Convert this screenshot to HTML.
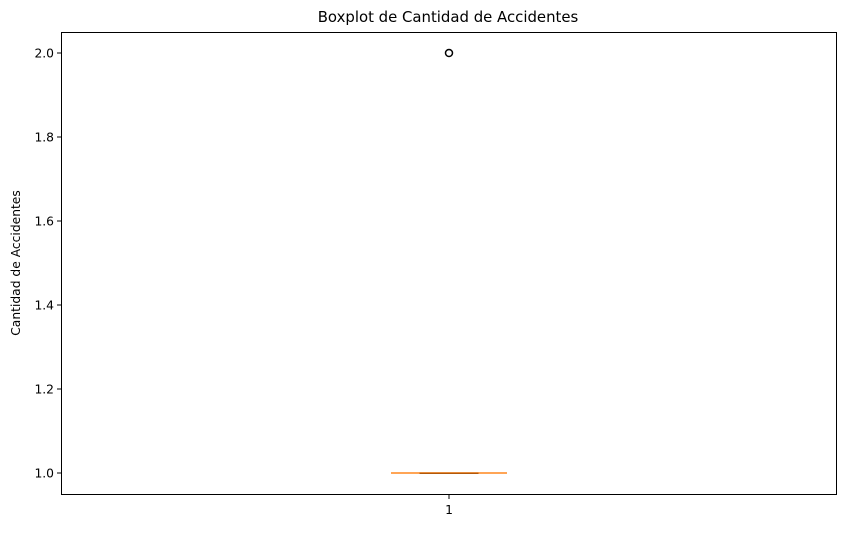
<!DOCTYPE html>
<html><head><meta charset="utf-8"><style>body{margin:0;background:#fff}svg{font-family:"DejaVu Sans","Liberation Sans",sans-serif}</style></head>
<body>
<svg id="c" width="846" height="528">
<rect width="846" height="528" fill="#fff"/>
<text x="448" y="22" text-anchor="middle" font-size="14.9">Boxplot de Cantidad de Accidentes</text>
<text transform="translate(20,263) rotate(-90)" text-anchor="middle" font-size="12.3">Cantidad de Accidentes</text>
<g id="ticks"></g>
<g id="marks"></g>
<rect x="61.5" y="32.5" width="775" height="462" fill="none" stroke="#000" stroke-width="1"/>
</svg>
<script>
const categories=["1"];
const q1=[1.0],q3=[1.0],median=[1.0],whiskLo=[1.0],whiskHi=[1.0];
const outliers=[[2.0]];
const yTicks=[1.0,1.2,1.4,1.6,1.8,2.0];
const yTickLabels=["1.0","1.2","1.4","1.6","1.8","2.0"];
const ns="http://www.w3.org/2000/svg";
function y(v){return 473-(v-1.0)*420;}
function x(i){return 449+i*100;}
function mk(t,a,p){const e=document.createElementNS(ns,t);for(const k in a)e.setAttribute(k,a[k]);p.appendChild(e);return e;}
const T=document.getElementById('ticks'),M=document.getElementById('marks');
yTicks.forEach((v,i)=>{
 const l=mk('line',{x1:57,x2:61,y1:y(v),y2:y(v),stroke:'#000'},T);
 
 
 const t=mk('text',{x:54,y:y(v)+4.5,'text-anchor':'end','font-size':12.3},T);t.textContent=yTickLabels[i];
 
 
});
categories.forEach((c,i)=>{
 const cx=x(i);
 const l=mk('line',{x1:cx,x2:cx,y1:495,y2:499,stroke:'#000'},T);
 
 
 const t=mk('text',{x:cx,y:514,'text-anchor':'middle','font-size':12.3},T);t.textContent=c;
 
 
 const b=mk('rect',{x:cx-29,y:y(q3[i]),width:58,height:Math.max(0.5,y(q1[i])-y(q3[i])),fill:'none',stroke:'#000'},M);
 
 
 const w1=mk('line',{x1:cx,x2:cx,y1:y(q3[i]),y2:y(whiskHi[i]),stroke:'#000'},M);
 
 
 const w2=mk('line',{x1:cx,x2:cx,y1:y(q1[i]),y2:y(whiskLo[i]),stroke:'#000'},M);
 
 
 const c1=mk('line',{x1:cx-29,x2:cx+29,y1:y(whiskHi[i]),y2:y(whiskHi[i]),stroke:'#000'},M);
 
 
 const c2=mk('line',{x1:cx-29,x2:cx+29,y1:y(whiskLo[i]),y2:y(whiskLo[i]),stroke:'#000'},M);
 
 
 const m=mk('line',{x1:cx-58,x2:cx+58,y1:y(median[i]),y2:y(median[i]),stroke:'#ff7f0e','stroke-width':1.8,opacity:0.8},M);
 
 
 outliers[i].forEach(o=>{
  const p=mk('circle',{cx:cx,cy:y(o),r:3.5,fill:'none',stroke:'#000','stroke-width':1.5},M);
  
  
 });
});
</script>
</body></html>
